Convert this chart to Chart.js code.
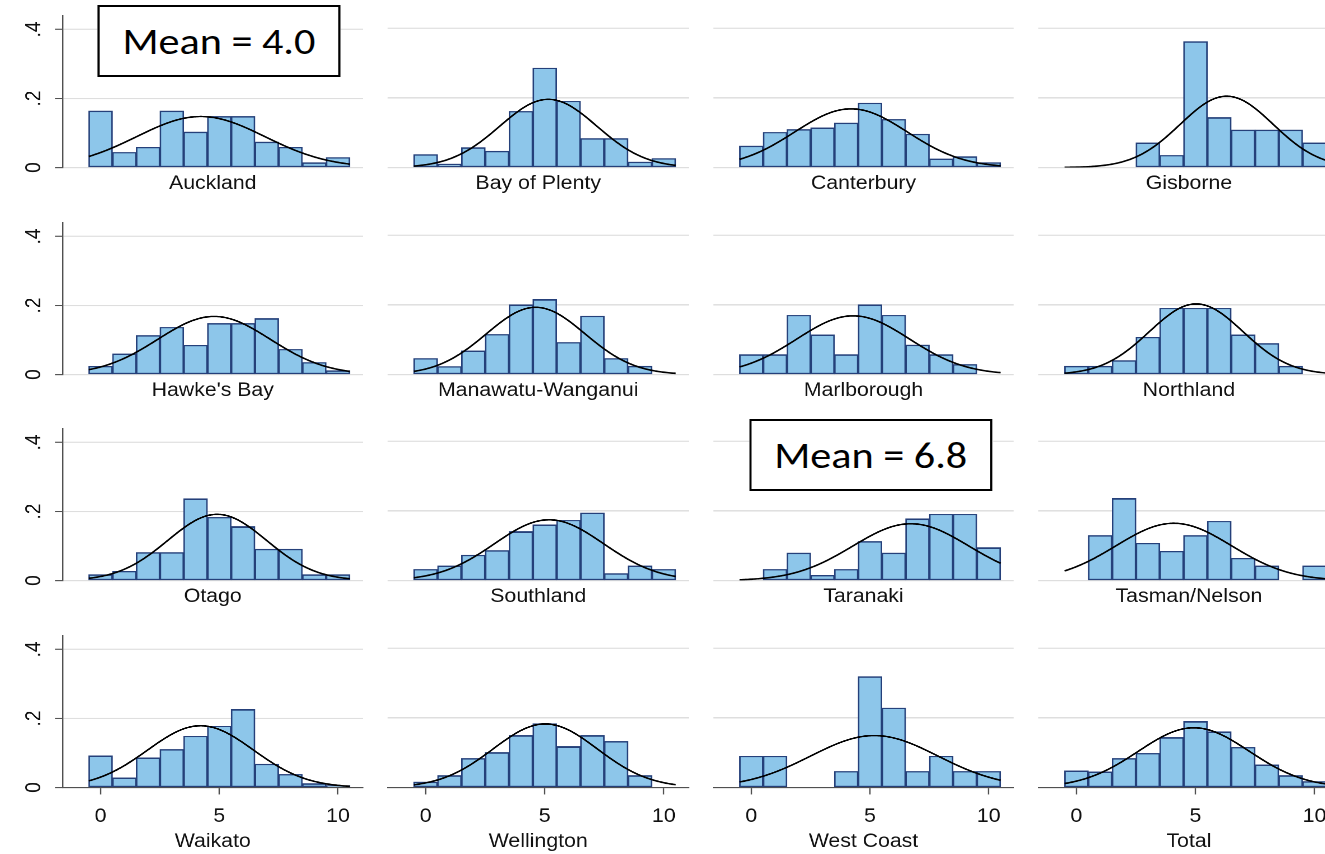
<!DOCTYPE html>
<html>
<head>
<meta charset="utf-8">
<title>Histograms by region</title>
<script src="https://cdn.jsdelivr.net/npm/chart.js@4.4.1/dist/chart.umd.min.js"></script>
<style>
  html, body { margin: 0; padding: 0; background: #fff; overflow: hidden; width: 1325px; height: 854px; }
  #stage { position: absolute; left: 0; top: 0; width: 1300px; height: 854px; transform-origin: 0 0; }
  .panel { position: absolute; }
  .note {
    position: absolute; box-sizing: border-box; border: 2px solid #000; background: #fff;
    display: flex; align-items: center; justify-content: center;
    font-family: Carlito, Calibri, Lato, sans-serif; color: #000; white-space: nowrap;
  }
</style>
</head>
<body>
<div id="stage"></div>
<script>
// bins are centred on the integers 0..10, width 1; values are densities
const bins = [0, 1, 2, 3, 4, 5, 6, 7, 8, 9, 10];

const auckland     = [0.164, 0.044, 0.059, 0.164, 0.103, 0.148, 0.148, 0.074, 0.059, 0.014, 0.029];
const bayOfPlenty  = [0.037, 0.010, 0.057, 0.047, 0.161, 0.285, 0.190, 0.083, 0.083, 0.016, 0.026];
const canterbury   = [0.062, 0.101, 0.109, 0.114, 0.128, 0.185, 0.138, 0.096, 0.025, 0.031, 0.014];
const gisborne     = [null, null, null, 0.071, 0.035, 0.361, 0.143, 0.108, 0.108, 0.108, 0.071];
const hawkesBay    = [0.024, 0.060, 0.113, 0.137, 0.085, 0.148, 0.148, 0.162, 0.073, 0.035, 0.011];
const manawatu     = [0.046, 0.023, 0.068, 0.115, 0.200, 0.215, 0.092, 0.168, 0.046, 0.024, null];
const marlborough  = [0.057, 0.057, 0.170, 0.114, 0.057, 0.200, 0.170, 0.085, 0.057, 0.029, null];
const northland    = [0.024, 0.024, 0.040, 0.107, 0.190, 0.190, 0.190, 0.114, 0.089, 0.024, null];
const otago        = [0.017, 0.027, 0.081, 0.081, 0.237, 0.183, 0.156, 0.091, 0.091, 0.017, 0.017];
const southland    = [0.032, 0.042, 0.073, 0.086, 0.140, 0.160, 0.173, 0.194, 0.020, 0.042, 0.032];
const taranaki     = [null, 0.032, 0.079, 0.015, 0.032, 0.112, 0.079, 0.177, 0.190, 0.190, 0.094];
const tasmanNelson = [null, 0.129, 0.235, 0.107, 0.084, 0.129, 0.170, 0.064, 0.042, null, 0.042];
const waikato      = [0.092, 0.028, 0.086, 0.110, 0.149, 0.178, 0.226, 0.068, 0.038, 0.011, 0.005];
const wellington   = [0.016, 0.034, 0.083, 0.100, 0.149, 0.183, 0.117, 0.149, 0.132, 0.034, null];
const westCoast    = [0.090, 0.090, null, null, 0.046, 0.318, 0.228, 0.046, 0.090, 0.046, 0.046];
const total        = [0.048, 0.045, 0.083, 0.098, 0.143, 0.189, 0.160, 0.115, 0.065, 0.034, 0.017];

const regions = ["Auckland", "Bay of Plenty", "Canterbury", "Gisborne",
  "Hawke's Bay", "Manawatu-Wanganui", "Marlborough", "Northland",
  "Otago", "Southland", "Taranaki", "Tasman/Nelson",
  "Waikato", "Wellington", "West Coast", "Total"];
const densities = [auckland, bayOfPlenty, canterbury, gisborne,
  hawkesBay, manawatu, marlborough, northland,
  otago, southland, taranaki, tasmanNelson,
  waikato, wellington, westCoast, total];

// normal overlay for each panel (mean and sd)
const curveMean = [4.22, 5.15, 4.20, 6.31, 4.78, 4.62, 4.29, 5.03, 4.91, 5.18, 6.72, 4.09, 4.21, 5.02, 5.18, 4.93];
const curveSd   = [2.70, 2.04, 2.37, 1.95, 2.37, 2.07, 2.37, 1.97, 2.08, 2.29, 2.45, 2.43, 2.23, 2.19, 2.68, 2.33];
const curveFrom = -0.5, curveTo = 10.5;

const xTicks = [0, 5, 10];
const xTickLabels = ["0", "5", "10"];
const yTicks = [0, 0.2, 0.4];
const yTickLabels = ["0", ".2", ".4"];

const notes = [
  { text: "Mean = 4.0", x: 97.3, y: 5, w: 243.3, h: 72.3 },
  { text: "Mean = 6.8", x: 749.5, y: 419.3, w: 242.5, h: 71.7 },
];

// layout (reference pixels; horizontal ones are divided by S because the stage is stretched)
const S = 1.12;
const UNIT = 23.77;
const COL0 = 100.7, COL_STEP = 325.3;
const ROW0 = 167, ROW_STEP = 206.8;
const YPX = 348;
const X_MIN = -1.6, X_MAX = 11.05, Y_MAX = 0.44;
const YAXIS_W = 44, TOP_PAD = 20, RIGHT_PAD = 4;
const XAXIS_H = [27.8, 27.8, 27.8, 65.6];

const FONT = '"Liberation Sans", Arial, sans-serif';
const TEXT = "#111";
const AXIS = "#505050";

Chart.defaults.font.family = FONT;
Chart.defaults.font.size = 19;
Chart.defaults.color = TEXT;

const stage = document.getElementById("stage");
stage.style.transform = `scaleX(${S})`;

function normalPoints(mean, sd) {
  const pts = [];
  for (let k = 0; k <= 220; k++) {
    const x = curveFrom + (curveTo - curveFrom) * k / 220;
    const z = (x - mean) / sd;
    pts.push({ x, y: Math.exp(-0.5 * z * z) / (sd * Math.sqrt(2 * Math.PI)) });
  }
  return pts;
}

function drawPanel(i) {
  const r = Math.floor(i / 4);
  const c = i % 4;
  const firstCol = c === 0;
  const lastRow = r === 3;

  const areaLeft = (COL0 + c * COL_STEP + X_MIN * UNIT) / S;
  const areaW = (X_MAX - X_MIN) * UNIT / S;
  const areaH = Y_MAX * YPX;
  const areaTop = ROW0 + r * ROW_STEP - areaH;

  const wrap = document.createElement("div");
  wrap.className = "panel";
  wrap.style.left = `${areaLeft - YAXIS_W}px`;
  wrap.style.top = `${areaTop - TOP_PAD}px`;
  wrap.style.width = `${YAXIS_W + areaW + RIGHT_PAD}px`;
  wrap.style.height = `${TOP_PAD + areaH + XAXIS_H[r]}px`;
  const canvas = document.createElement("canvas");
  wrap.appendChild(canvas);
  stage.appendChild(wrap);

  const bars = bins
    .map((b, k) => ({ x: b, y: densities[i][k] }))
    .filter((p) => p.y !== null);

  new Chart(canvas, {
    type: "bar",
    data: {
      datasets: [
        {
          type: "line",
          data: normalPoints(curveMean[i], curveSd[i]),
          borderColor: "#000",
          borderWidth: 1.6,
          pointRadius: 0,
          tension: 0,
          order: 0,
        },
        {
          type: "bar",
          data: bars,
          backgroundColor: "#8dc6ea",
          borderColor: "#25407a",
          borderWidth: 1.4,
          borderSkipped: false,
          barPercentage: 1,
          categoryPercentage: 1,
          order: 1,
        },
      ],
    },
    options: {
      responsive: true,
      maintainAspectRatio: false,
      devicePixelRatio: 2,
      animation: false,
      events: [],
      layout: { padding: { top: TOP_PAD, right: RIGHT_PAD, left: 0, bottom: 0 } },
      plugins: { legend: { display: false }, tooltip: { enabled: false } },
      scales: {
        x: {
          type: "linear",
          offset: false,
          min: X_MIN,
          max: X_MAX,
          afterBuildTicks: (s) => { s.ticks = xTicks.map((v) => ({ value: v })); },
          afterFit: (s) => { s.height = XAXIS_H[r]; },
          ticks: {
            display: lastRow,
            padding: 10.8,
            color: TEXT,
            maxRotation: 0,
            callback: (v, k) => xTickLabels[k],
          },
          grid: {
            display: lastRow,
            offset: false,
            drawOnChartArea: false,
            drawTicks: lastRow,
            tickLength: 7,
            tickColor: AXIS,
            tickWidth: 1.2,
          },
          border: { display: lastRow, color: AXIS, width: 1.2 },
          title: {
            display: true,
            text: regions[i],
            color: TEXT,
            font: { size: 19 },
            padding: { top: 0, bottom: 0 },
          },
        },
        y: {
          min: 0,
          max: Y_MAX,
          afterBuildTicks: (s) => { s.ticks = yTicks.map((v) => ({ value: v })); },
          afterFit: (s) => { s.width = YAXIS_W; },
          ticks: {
            display: firstCol,
            minRotation: 90,
            maxRotation: 90,
            crossAlign: "center",
            padding: 10.2,
            color: TEXT,
            callback: (v, k) => yTickLabels[k],
          },
          grid: {
            color: "#dedede",
            lineWidth: 1.3,
            drawTicks: firstCol,
            tickLength: 6.9,
            tickColor: AXIS,
            tickWidth: 1.2,
          },
          border: { display: firstCol, color: AXIS, width: 1.2 },
        },
      },
    },
  });
}

for (let i = 0; i < regions.length; i++) drawPanel(i);

// boxed annotations, text sized to the reference width
const measure = document.createElement("canvas").getContext("2d");
const noteFamily = "Carlito, Calibri, Lato, sans-serif";
for (const n of notes) {
  const box = document.createElement("div");
  box.className = "note";
  box.style.left = `${n.x / S}px`;
  box.style.top = `${n.y}px`;
  box.style.width = `${n.w / S}px`;
  box.style.height = `${n.h}px`;
  measure.font = `100px ${noteFamily}`;
  const w = measure.measureText(n.text).width;
  box.style.fontSize = `${(100 * (193 / S)) / w}px`;
  box.textContent = n.text;
  stage.appendChild(box);
}
</script>
</body>
</html>
